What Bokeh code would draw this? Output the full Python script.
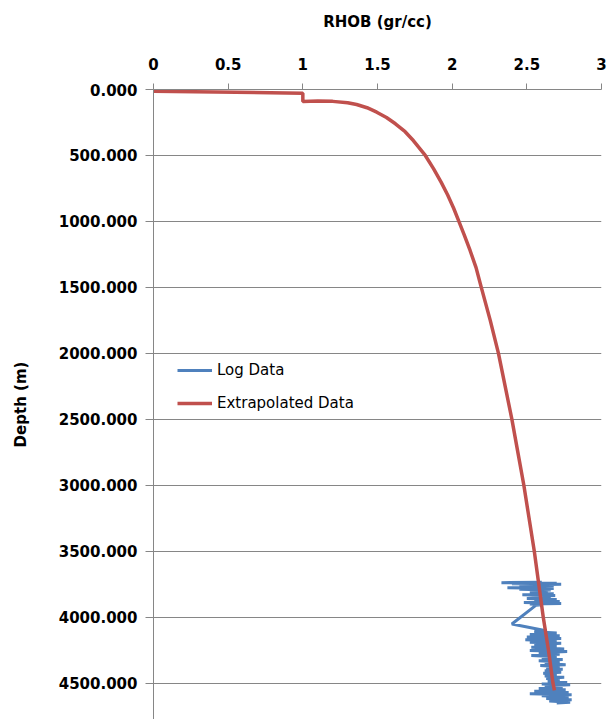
from bokeh.plotting import figure
from bokeh.models import Range1d, SingleIntervalTicker, NumeralTickFormatter
from bokeh.embed import file_html
from bokeh.resources import INLINE

# Extrapolated density curve (RHOB, depth)
ext_rhob = [0.00, 1.00, 1.00, 1.10, 1.20, 1.30, 1.36, 1.43, 1.495, 1.56, 1.62, 1.685,
            1.74, 1.82, 1.875, 1.925, 1.97, 2.01, 2.045, 2.08, 2.12, 2.16, 2.195, 2.255,
            2.31, 2.355, 2.40, 2.44, 2.48, 2.515, 2.55, 2.58, 2.61, 2.645, 2.675, 2.685]
ext_depth = [13, 28, 91, 88, 90, 100, 114, 138, 172, 212, 260, 320,
             387, 500, 600, 700, 800, 900, 1000, 1100, 1220, 1350, 1500, 1750,
             2000, 2250, 2500, 2750, 3000, 3250, 3500, 3750, 4000, 4250, 4500, 4555]

# Log data (RHOB, depth)
log_depth = [3735, 3738, 3742, 3746, 3750, 3755, 3760, 3765, 3770, 3776, 3782, 3788,
             3794, 3800, 3808, 3815, 3822, 3830, 3836, 3842, 3850, 3858, 3865, 3872,
             3880, 3888, 3895, 3900, 3905, 3910, 4051, 4100, 4110, 4120, 4130, 4140,
             4150, 4161, 4170, 4180, 4189, 4198, 4208, 4218, 4228, 4240, 4252, 4260,
             4270, 4280, 4290, 4300, 4310, 4320, 4330, 4340, 4350, 4360, 4366, 4375,
             4385, 4395, 4405, 4417, 4425, 4435, 4445, 4455, 4465, 4475, 4485, 4495,
             4505, 4512, 4520, 4530, 4540, 4550, 4560, 4570, 4580, 4588, 4595, 4605,
             4615, 4625, 4635, 4644, 4650]
log_rhob = [2.60, 2.33, 2.70, 2.40, 2.73, 2.45, 2.68, 2.50, 2.65, 2.37, 2.68, 2.45,
            2.66, 2.55, 2.64, 2.52, 2.68, 2.47, 2.69, 2.55, 2.66, 2.50, 2.70, 2.55,
            2.72, 2.48, 2.73, 2.52, 2.60, 2.56, 2.40, 2.62, 2.55, 2.70, 2.52, 2.72,
            2.50, 2.73, 2.49, 2.70, 2.52, 2.73, 2.55, 2.70, 2.53, 2.75, 2.52, 2.77,
            2.58, 2.72, 2.53, 2.70, 2.60, 2.74, 2.58, 2.72, 2.62, 2.76, 2.59, 2.72,
            2.63, 2.74, 2.62, 2.73, 2.61, 2.70, 2.62, 2.75, 2.63, 2.72, 2.64, 2.77,
            2.60, 2.79, 2.62, 2.74, 2.58, 2.76, 2.55, 2.78, 2.52, 2.80, 2.60, 2.78,
            2.63, 2.80, 2.65, 2.79, 2.70]

FONT = "DejaVu Sans"
GRAY = "#868686"

p = figure(width=608, height=719, output_backend="svg", toolbar_location=None,
           x_axis_location="above",
           x_range=Range1d(0, 3), y_range=Range1d(4775, 0),
           min_border_left=153, min_border_top=89, min_border_right=7,
           min_border_bottom=0)
p.outline_line_color = None
p.background_fill_color = "white"
p.border_fill_color = "white"

p.line(log_rhob, log_depth, line_color="#4F81BD", line_width=3, legend_label="Log Data")
p.line(ext_rhob, ext_depth, line_color="#C0504D", line_width=3.5, legend_label="Extrapolated Data")

xa = p.xaxis[0]
xa.ticker = SingleIntervalTicker(interval=0.5)
xa.formatter = NumeralTickFormatter(format="0.[0]")
xa.axis_label = "RHOB (gr/cc)"
xa.axis_label_text_font = FONT
xa.axis_label_text_font_style = "bold"
xa.axis_label_text_font_size = "15px"
xa.axis_label_text_color = "black"
xa.axis_label_standoff = 24
xa.major_label_text_font = FONT
xa.major_label_text_font_style = "bold"
xa.major_label_text_font_size = "15px"
xa.major_label_text_color = "black"
xa.major_label_standoff = 14
xa.major_tick_out = 6
xa.major_tick_in = 0
xa.minor_tick_out = 0
xa.minor_tick_in = 0
xa.axis_line_color = GRAY
xa.major_tick_line_color = GRAY

ya = p.yaxis[0]
ya.ticker = SingleIntervalTicker(interval=500)
ya.formatter = NumeralTickFormatter(format="0.000")
ya.axis_label = "Depth (m)"
ya.axis_label_text_font = FONT
ya.axis_label_text_font_style = "bold"
ya.axis_label_text_font_size = "15px"
ya.axis_label_text_color = "black"
ya.axis_label_standoff = 26
ya.major_label_text_font = FONT
ya.major_label_text_font_style = "bold"
ya.major_label_text_font_size = "15px"
ya.major_label_text_color = "black"
ya.major_label_standoff = 8
ya.major_tick_out = 8
ya.major_tick_in = 0
ya.minor_tick_out = 0
ya.minor_tick_in = 0
ya.axis_line_color = GRAY
ya.major_tick_line_color = GRAY

p.xgrid.grid_line_color = None
p.ygrid.grid_line_color = GRAY
p.ygrid.grid_line_width = 1

lg = p.legend[0]
lg.location = (24, 306)
lg.background_fill_alpha = 0
lg.border_line_color = None
lg.padding = 0
lg.margin = 0
lg.spacing = 13
lg.glyph_width = 35
lg.glyph_height = 20
lg.label_height = 20
lg.label_standoff = 5
lg.label_text_font = FONT
lg.label_text_font_size = "15px"
lg.label_text_color = "black"

open("out.html", "w").write(file_html(p, INLINE))
